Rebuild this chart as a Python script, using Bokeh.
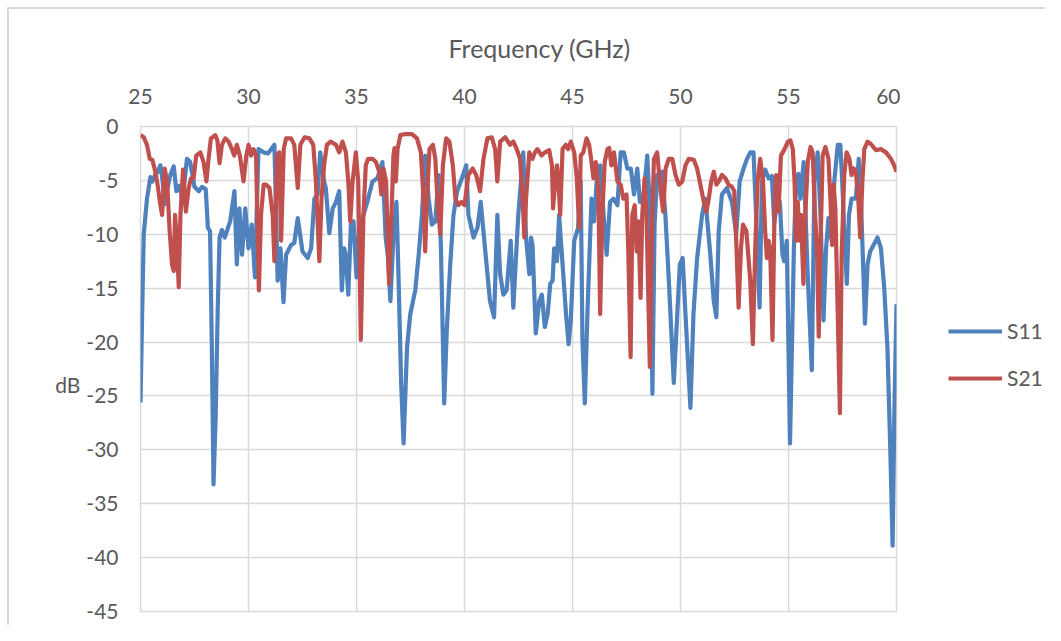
from bokeh.plotting import figure
from bokeh.layouts import row
from bokeh.models import Range1d, FixedTicker, Legend, LegendItem, PrintfTickFormatter, Title
from bokeh.embed import file_html
from bokeh.resources import INLINE

freq_s11 = [25.0, 25.08, 25.15, 25.3, 25.46, 25.55, 25.65, 25.8, 25.92, 26.02, 26.12, 26.22, 26.38, 26.54,
            26.66, 26.8, 26.95, 27.15, 27.3, 27.5, 27.7, 27.85, 28.02, 28.12, 28.22, 28.3, 28.38, 28.48,
            28.57, 28.66, 28.77, 28.9, 29.15, 29.35, 29.46, 29.58, 29.7, 29.85, 30.0, 30.15, 30.3, 30.46,
            30.7, 30.9, 31.2, 31.35, 31.48, 31.62, 31.74, 31.97, 32.12, 32.28, 32.5, 32.74, 32.9, 33.05,
            33.2, 33.32, 33.5, 33.58, 33.74, 33.9, 34.05, 34.2, 34.32, 34.43, 34.5, 34.62, 34.74, 34.86,
            35.0, 35.12, 35.28, 35.5, 35.74, 35.97, 36.2, 36.35, 36.45, 36.57, 36.72, 36.85, 36.95, 37.07,
            37.18, 37.34, 37.49, 37.72, 37.88, 38.03, 38.18, 38.34, 38.49, 38.65, 38.8, 38.91, 39.06, 39.18,
            39.34, 39.49, 39.66, 39.88, 40.08, 40.18, 40.42, 40.6, 40.75, 40.95, 41.18, 41.37, 41.52, 41.65,
            41.8, 41.95, 42.14, 42.26, 42.49, 42.72, 42.85, 43.0, 43.08, 43.15, 43.3, 43.46, 43.58, 43.72,
            43.85, 43.97, 44.08, 44.15, 44.28, 44.38, 44.54, 44.7, 44.82, 44.92, 45.08, 45.26, 45.38, 45.46,
            45.57, 45.69, 45.88, 46.0, 46.12, 46.28, 46.43, 46.58, 46.74, 46.89, 47.08, 47.23, 47.38, 47.54,
            47.7, 47.85, 48.0, 48.12, 48.28, 48.46, 48.6, 48.7, 48.8, 48.92, 49.15, 49.3, 49.46, 49.69,
            49.85, 49.97, 50.1, 50.23, 50.46, 50.6, 50.77, 51.0, 51.15, 51.38, 51.54, 51.66, 51.77, 51.92,
            52.15, 52.38, 52.58, 52.74, 52.92, 53.08, 53.23, 53.38, 53.5, 53.66, 53.77, 53.92, 54.08, 54.23,
            54.34, 54.49, 54.6, 54.72, 54.8, 54.92, 55.07, 55.25, 55.35, 55.46, 55.55, 55.7, 55.9, 56.08,
            56.2, 56.35, 56.48, 56.62, 56.74, 56.85, 57.0, 57.12, 57.28, 57.4, 57.5, 57.6, 57.7, 57.8,
            57.92, 58.12, 58.25, 58.35, 58.48, 58.54, 58.66, 58.78, 58.94, 59.12, 59.28, 59.43, 59.58,
            59.71, 59.82, 59.9, 60.0]
s11_db = [-25.6, -17.0, -10.0, -6.7, -4.7, -5.1, -4.6, -4.2, -3.6, -5.0, -7.2, -6.0, -4.5, -3.7,
          -6.0, -5.5, -6.8, -3.0, -3.3, -5.6, -6.0, -5.6, -5.8, -9.4, -9.7, -20.0, -33.2, -27.0,
          -17.4, -10.3, -9.6, -10.3, -8.8, -6.0, -12.8, -7.6, -11.9, -7.6, -11.3, -9.1, -14.0, -2.1,
          -2.4, -2.5, -1.7, -14.3, -11.3, -16.3, -11.9, -11.0, -10.8, -8.5, -11.6, -12.2, -11.3, -6.7,
          -6.3, -2.4, -5.1, -5.7, -9.9, -7.6, -7.0, -6.0, -15.2, -11.3, -11.9, -15.6, -9.1, -8.8,
          -14.0, -9.4, -8.5, -7.0, -5.1, -4.8, -3.3, -10.3, -12.0, -16.2, -9.7, -7.0, -14.3, -24.0,
          -29.4, -20.5, -17.4, -15.2, -11.9, -8.2, -2.7, -6.7, -9.1, -8.8, -4.5, -11.3, -25.7, -18.9,
          -12.8, -8.2, -6.0, -4.8, -3.6, -8.2, -10.3, -9.4, -7.0, -11.3, -16.2, -17.7, -8.2, -13.7,
          -15.6, -15.2, -10.6, -16.8, -8.2, -2.4, -10.3, -13.7, -10.3, -11.0, -19.2, -16.2, -15.6, -18.6,
          -17.4, -14.6, -14.3, -11.3, -12.5, -8.2, -12.8, -17.4, -20.2, -18.0, -10.6, -9.4, -5.1, -19.8,
          -25.7, -17.4, -6.7, -8.8, -5.1, -3.6, -7.9, -11.9, -7.0, -6.7, -7.3, -2.4, -2.4, -3.9,
          -3.9, -6.3, -3.9, -7.0, -6.7, -2.7, -8.2, -24.8, -9.0, -4.5, -4.2, -8.2, -14.3, -23.8,
          -17.4, -12.8, -12.2, -17.4, -26.1, -17.4, -12.2, -8.2, -6.7, -11.9, -16.2, -17.7, -9.7, -6.3,
          -5.7, -7.0, -10.0, -5.1, -3.9, -3.0, -2.4, -2.4, -8.2, -16.8, -5.1, -4.0, -4.8, -4.6,
          -9.0, -6.7, -7.0, -11.9, -12.5, -10.6, -29.4, -11.3, -5.1, -4.4, -6.7, -3.3, -14.3, -22.6,
          -5.1, -2.4, -8.2, -18.0, -11.3, -8.5, -10.6, -5.1, -1.7, -1.7, -5.7, -10.6, -14.6, -8.2,
          -6.7, -6.7, -3.0, -6.7, -14.3, -18.3, -12.8, -11.6, -11.0, -10.3, -11.3, -14.9, -20.5,
          -29.7, -38.9, -26.6, -16.5]

freq_s21 = [25.0, 25.15, 25.3, 25.43, 25.55, 25.65, 25.77, 25.9, 26.0, 26.12, 26.23, 26.35, 26.46, 26.54,
            26.6, 26.68, 26.77, 26.85, 26.97, 27.03, 27.1, 27.23, 27.34, 27.46, 27.58, 27.77, 27.92, 28.05,
            28.15, 28.26, 28.46, 28.56, 28.66, 28.77, 28.92, 29.08, 29.23, 29.34, 29.46, 29.6, 29.77, 29.9,
            30.0, 30.12, 30.23, 30.35, 30.48, 30.58, 30.7, 30.82, 30.97, 31.12, 31.2, 31.32, 31.42, 31.51,
            31.63, 31.74, 31.97, 32.12, 32.28, 32.4, 32.6, 32.82, 33.0, 33.12, 33.28, 33.38, 33.5, 33.63,
            33.8, 34.05, 34.2, 34.35, 34.51, 34.62, 34.71, 34.82, 34.97, 35.08, 35.2, 35.32, 35.43, 35.54,
            35.74, 35.9, 36.05, 36.15, 36.25, 36.37, 36.51, 36.62, 36.71, 36.76, 36.82, 36.9, 37.03, 37.26,
            37.57, 37.8, 37.98, 38.1, 38.18, 38.26, 38.38, 38.54, 38.65, 38.75, 38.88, 39.0, 39.15, 39.3,
            39.46, 39.58, 39.72, 39.86, 40.0, 40.18, 40.38, 40.54, 40.72, 40.88, 41.06, 41.26, 41.42, 41.52,
            41.65, 41.88, 42.11, 42.26, 42.42, 42.57, 42.69, 42.77, 42.85, 43.0, 43.15, 43.26, 43.38, 43.57,
            43.72, 43.92, 44.05, 44.1, 44.2, 44.28, 44.35, 44.43, 44.54, 44.69, 44.8, 44.92, 45.08, 45.2,
            45.31, 45.38, 45.5, 45.65, 45.77, 45.88, 45.97, 46.08, 46.2, 46.28, 46.38, 46.49, 46.62, 46.7,
            46.8, 46.92, 47.08, 47.23, 47.35, 47.5, 47.58, 47.69, 47.77, 47.88, 47.97, 48.05, 48.15, 48.23,
            48.34, 48.43, 48.5, 48.58, 48.66, 48.77, 48.92, 49.08, 49.2, 49.31, 49.46, 49.62, 49.77, 49.92,
            50.08, 50.23, 50.38, 50.62, 50.77, 50.92, 51.08, 51.2, 51.31, 51.42, 51.54, 51.66, 51.77, 51.92,
            52.08, 52.23, 52.38, 52.49, 52.58, 52.69, 52.8, 52.89, 53.05, 53.23, 53.35, 53.46, 53.57, 53.69,
            53.82, 53.92, 54.0, 54.08, 54.15, 54.26, 54.35, 54.43, 54.54, 54.65, 54.82, 54.97, 55.09, 55.2,
            55.28, 55.35, 55.43, 55.51, 55.58, 55.69, 55.78, 55.89, 56.02, 56.12, 56.23, 56.32, 56.4, 56.48,
            56.58, 56.71, 56.85, 56.94, 57.02, 57.09, 57.17, 57.28, 57.38, 57.46, 57.58, 57.69, 57.82, 57.92,
            58.02, 58.12, 58.23, 58.32, 58.42, 58.51, 58.66, 58.8, 59.05, 59.28, 59.51, 59.74, 59.89, 60.0]
s21_db = [-0.8, -1.0, -1.7, -3.0, -3.1, -3.9, -5.1, -7.0, -8.2, -3.9, -5.1, -9.7, -12.8, -13.4,
          -8.2, -10.5, -14.9, -8.2, -4.0, -6.0, -7.9, -5.7, -4.8, -4.8, -2.7, -2.4, -3.3, -5.1,
          -3.0, -1.1, -0.8, -1.3, -3.4, -1.7, -1.1, -1.4, -2.1, -2.7, -1.7, -2.7, -5.1, -2.7,
          -1.7, -2.7, -2.1, -2.7, -15.2, -8.2, -5.4, -5.4, -5.7, -8.2, -12.5, -2.7, -2.4, -10.6,
          -2.1, -1.1, -1.1, -1.7, -5.7, -1.7, -1.0, -1.1, -1.7, -5.1, -12.5, -6.7, -3.6, -1.7,
          -1.4, -1.7, -2.4, -1.4, -2.4, -5.1, -8.8, -5.1, -2.4, -5.1, -19.8, -8.2, -3.6, -3.0,
          -3.0, -3.3, -4.2, -6.3, -3.9, -5.1, -14.6, -8.2, -2.7, -2.0, -5.1, -2.1, -0.8, -0.7,
          -0.7, -1.1, -2.4, -6.7, -11.6, -6.7, -2.1, -1.7, -3.0, -7.0, -10.0, -3.6, -1.1, -1.4,
          -3.6, -6.7, -7.3, -7.0, -7.3, -4.5, -3.9, -4.5, -6.0, -3.0, -1.1, -1.0, -2.1, -5.1,
          -1.4, -1.0, -1.7, -1.4, -2.1, -3.0, -6.7, -10.3, -6.7, -2.4, -3.0, -2.4, -2.1, -2.7,
          -2.4, -2.2, -3.6, -7.6, -5.1, -3.6, -5.1, -8.2, -2.1, -1.7, -2.1, -1.4, -2.4, -4.8,
          -9.4, -2.7, -2.4, -1.1, -1.7, -3.3, -4.8, -3.3, -6.0, -17.4, -8.2, -3.3, -2.1, -2.0,
          -3.6, -2.4, -5.1, -5.4, -6.7, -6.3, -11.3, -21.4, -8.2, -7.3, -11.6, -8.8, -15.9, -8.2,
          -4.8, -8.2, -14.9, -22.3, -11.3, -3.0, -2.4, -6.0, -7.9, -3.9, -3.0, -3.0, -4.5, -5.4,
          -5.1, -3.6, -3.0, -3.1, -3.9, -5.4, -7.0, -7.9, -6.7, -5.1, -4.2, -5.4, -5.1, -4.5,
          -4.8, -5.4, -5.6, -6.0, -10.6, -16.8, -11.3, -9.1, -9.7, -14.3, -20.2, -11.3, -5.1, -3.0,
          -5.1, -9.7, -12.2, -10.6, -11.3, -19.8, -8.2, -4.5, -7.9, -2.7, -2.1, -1.4, -1.3, -2.1,
          -5.1, -10.6, -7.0, -10.6, -8.2, -14.6, -8.2, -3.3, -1.9, -2.4, -8.2, -11.3, -19.5, -11.3,
          -2.7, -1.9, -3.0, -6.7, -11.0, -5.4, -7.6, -17.4, -26.6, -12.0, -4.5, -2.4, -3.0, -4.5,
          -3.9, -4.2, -6.7, -10.3, -5.1, -2.1, -1.4, -1.6, -2.2, -2.1, -2.4, -3.0, -3.6, -4.2]

x_ticks = [25, 30, 35, 40, 45, 50, 55, 60]
y_ticks = [0, -5, -10, -15, -20, -25, -30, -35, -40, -45]
series_names = ["S11", "S21"]
series_colors = ["#4F81BD", "#C0504D"]

FONT = "Lato"
TXT = "#595959"
GRID = "#d9d9d9"
LW = 4.2

p = figure(width=900, height=625, x_range=Range1d(25, 60), y_range=Range1d(-45, 0),
           x_axis_location="above", output_backend="svg", toolbar_location=None,
           min_border_left=140, min_border_top=126, min_border_right=4, min_border_bottom=14,
           background_fill_color="white", border_fill_alpha=0)
p.outline_line_color = GRID
p.outline_line_width = 1.5

p.xaxis.ticker = FixedTicker(ticks=x_ticks)
p.yaxis.ticker = FixedTicker(ticks=y_ticks)
p.xaxis.formatter = PrintfTickFormatter(format="%d")
p.yaxis.formatter = PrintfTickFormatter(format="%d")
p.xgrid.ticker = FixedTicker(ticks=x_ticks)
p.ygrid.ticker = FixedTicker(ticks=y_ticks)
p.grid.grid_line_color = GRID
p.grid.grid_line_width = 1.5

for ax in (p.xaxis, p.yaxis):
    ax.axis_line_color = None
    ax.major_tick_line_color = None
    ax.minor_tick_line_color = None
    ax.major_tick_out = 0
    ax.major_tick_in = 0
    ax.minor_tick_out = 0
    ax.minor_tick_in = 0
    ax.major_label_text_font = FONT
    ax.major_label_text_font_size = "21px"
    ax.major_label_text_color = TXT
    ax.axis_label_text_font = FONT
    ax.axis_label_text_color = TXT
    ax.axis_label_text_font_style = "normal"

p.xaxis.major_label_standoff = 23

title = Title(text="Frequency (GHz)", align="left", offset=308, standoff=45,
              text_font=FONT, text_font_size="25px", text_font_style="normal", text_color=TXT)
p.add_layout(title, "above")

p.yaxis.axis_label = "\ndB"
p.yaxis.axis_label_text_font_size = "21px"
p.yaxis.axis_label_orientation = "horizontal"
p.yaxis.major_label_standoff = 22
p.yaxis.axis_label_standoff = 3

p.line(freq_s11, s11_db, line_color=series_colors[0], line_width=LW, line_join="round")
p.line(freq_s21, s21_db, line_color=series_colors[1], line_width=LW, line_join="round")

# legend panel to the right of the plot area (series drawn out of its view, only the key shows)
p2 = figure(width=145, height=625, x_range=Range1d(0, 1), y_range=Range1d(0, 1),
            output_backend="svg", toolbar_location=None,
            min_border_left=0, min_border_top=0, min_border_right=0, min_border_bottom=0,
            background_fill_alpha=0, border_fill_alpha=0)
p2.axis.visible = False
p2.grid.visible = False
p2.outline_line_color = None
k1 = p2.line(freq_s11, s11_db, line_color=series_colors[0], line_width=LW)
k2 = p2.line(freq_s21, s21_db, line_color=series_colors[1], line_width=LW)
legend = Legend(items=[LegendItem(label=series_names[0], renderers=[k1]),
                       LegendItem(label=series_names[1], renderers=[k2])],
                location=(48, 221), orientation="vertical")
legend.glyph_width = 54
legend.glyph_height = 20
legend.label_standoff = 5
legend.spacing = 22
legend.padding = 0
legend.margin = 0
legend.border_line_alpha = 0
legend.background_fill_alpha = 0
legend.label_text_font = FONT
legend.label_text_font_size = "21px"
legend.label_text_color = TXT
p2.add_layout(legend, "center")

layout = row(p, p2, spacing=0)
layout.styles = {"background": "linear-gradient(#d9d9d9, #d9d9d9) 7px 7px / 100% 2px no-repeat, "
                               "linear-gradient(#d9d9d9, #d9d9d9) 7px 7px / 2px 100% no-repeat, #ffffff"}

open("out.html", "w").write(file_html(layout, INLINE))
